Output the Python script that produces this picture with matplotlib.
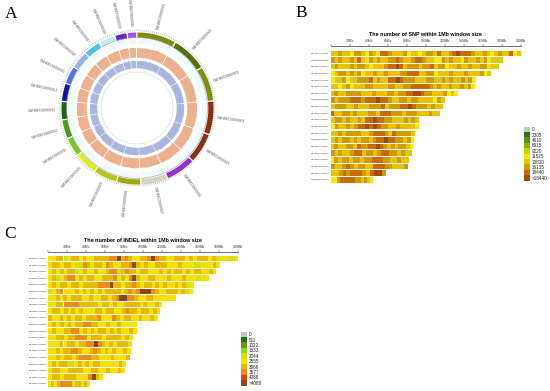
import numpy as np
import matplotlib.pyplot as plt

plt.rc('font', family='Liberation Sans')

chrom_names = ['GWHBEC%08d' % i for i in range(1, 21)]
chrom_len = [200, 181, 177, 169, 153, 152, 134, 120, 118, 115,
             93, 93, 89, 88, 87, 86, 82, 81, 58, 44]
chrom_colors = ['#7f8c14', '#55700f', '#7e8f0e', '#8a2c14', '#8a3018', '#9a2fd0', '#d4d4c4',
                '#a4a810', '#b4c41c', '#dcec1c', '#7cc820', '#4c9c18', '#1c6418', '#14149c',
                '#4878dc', '#98b4e8', '#50c4e4', '#c4ecf0', '#6428c8', '#a050e4']

# one digit per window, index into the legend colours
snp_levels = [
    '66766577657658876667566567768667898887667656766856',
    '767667686576766778766788766557676657667675664',
    '67666767765666788986777677867756676676677564',
    '567767675667667666778886677566676667666754',
    '56675667778676688987776667766767667675',
    '66567566677666677667788888767667667675',
    '6766777766676667767788998776667565',
    '767778887888988766776776666576',
    '67776676667778677788987776766',
    '86677676667768887776777666766',
    '67767667688988776667676',
    '57667678898987766766665',
    '6676777766788876877776',
    '6767767677678898877675',
    '6766776877889876767765',
    '767667886776788776766',
    '576776776778887766766',
    '76678767766888776667',
    '66787888768997',
    '55788888776765',
]
indel_levels = [
    '55664566565566667796765566797665566656566656455445',
    '566566544765665765566796565566655565554455565',
    '56565664565565567746766566555656566565665565',
    '564567756566556667565796556655565556555455',
    '56566566566667779665667656656565565645',
    '45675556565656566665676799976556665645',
    '5565656665565566567997765566555555',
    '556677776666656656556666565565',
    '56656565655566566556766566565',
    '65565656656667555765665565565',
    '56565656677665565565555',
    '56556677565656656565565',
    '5566566777566656666565',
    '5556566566779765656665',
    '5565667765567656565565',
    '556566567776655565556',
    '565664456565665555565',
    '56655666655665565565',
    '56656665557965',
    '56567777566565',
]

snp_colors = ['#b8ccc4', '#3a6a10', '#5a9010', '#8ab010', '#c4d800',
              '#f4ec00', '#e8c400', '#d09a00', '#c86a08', '#a04a10']
indel_colors = ['#b8ccc4', '#1f6f1a', '#6f8f20', '#80e020', '#d8dc10',
                '#f8e000', '#e8b800', '#ec8c18', '#e83818', '#8a4a18']
snp_ticks = ['0', '2305', '4610', '6915', '9220', '11525', '13830', '16135', '18440', '>18440']
indel_ticks = ['0', '511', '1022', '1533', '2044', '2555', '3066', '3577', '4088', '>4088']
mb_ticks = list(range(20, 220, 20))

W, H = 550, 391
fig = plt.figure(figsize=(W / 100, H / 100), dpi=100)


def px_axes(x0, y0, x1, y1, **kw):
    return fig.add_axes([x0 / W, 1 - y1 / H, (x1 - x0) / W, (y1 - y0) / H], **kw)


def draw_heat(x0, x1, y_axis, y_first, pitch, levels, colors, title, y_title):
    ax = px_axes(x0, y_axis, x1, y_axis + 21 * pitch)
    ax.patch.set_visible(False)
    for i, row in enumerate(levels):
        step = chrom_len[i] / len(row)
        for j, c in enumerate(row):
            ax.barh(i, step, left=j * step, height=0.82, color=colors[int(c)], lw=0)
    off = (y_first - y_axis) / pitch + 0.41
    ax.set_ylim(21 - off, -off)
    ax.set_xlim(0, 200)
    for s in ['left', 'right', 'bottom']:
        ax.spines[s].set_visible(False)
    ax.spines['top'].set_linewidth(0.4)
    ax.xaxis.tick_top()
    ax.set_xticks([0] + mb_ticks)
    ax.set_xticklabels([''] + ['%dMb' % m for m in mb_ticks], fontsize=2.4, color='#333333')
    ax.tick_params(axis='x', length=1.2, width=0.3, pad=0.6)
    ax.set_yticks(range(20))
    ax.set_yticklabels(chrom_names, fontsize=1.5, color='#333333')
    ax.tick_params(axis='y', length=0, pad=0.8)
    fig.text((x0 + x1) / 2 / W, 1 - y_title / H, title, fontsize=3.9, fontweight='bold',
             ha='center', va='center')


def draw_key(x0, y0, colors, ticks):
    ax = px_axes(x0, y0, x0 + 6.5, y0 + 5.4 * len(colors))
    ax.barh(range(len(colors)), 1, height=1, color=colors, lw=0)
    ax.set_xlim(0, 1)
    ax.set_ylim(len(colors) - 0.5, -0.5)
    ax.set_xticks([])
    ax.yaxis.tick_right()
    ax.set_yticks(range(len(ticks)))
    ax.set_yticklabels(ticks, fontsize=3.3, color='#222222')
    ax.tick_params(axis='y', length=0, pad=1.0)
    for s in ax.spines.values():
        s.set_visible(False)


# panel A, circular genome plot
cx, cy, R = 137, 108, 120
ax = px_axes(cx - R, cy - R, cx + R, cy + R, projection='polar')
ax.set_theta_zero_location('N')
ax.set_theta_direction(-1)
ax.set_ylim(0, R)
ax.axis('off')

gap = np.deg2rad(1.0)
scale = (2 * np.pi - 20 * gap) / sum(chrom_len)
start = 0.0
for i, n in enumerate(chrom_len):
    span = n * scale
    arc = np.linspace(start, start + span, 40)
    ax.fill_between(arc, 64, 70.3, color='#f1fafa', lw=0)
    ax.fill_between(arc, 70.8, 76, color=chrom_colors[i], lw=0)
    ax.plot(arc, [70.4] * 40, color='#9a9ac8', lw=0.4)

    snp = snp_levels[i]
    step = span / len(snp)
    for j, c in enumerate(snp):
        ax.bar(start + j * step, 8.4 + 0.2 * int(c), width=step, bottom=50.3, align='edge',
               color='#e8986a', lw=0)
    indel = indel_levels[i]
    step = span / len(indel)
    for j, c in enumerate(indel):
        ax.bar(start + j * step, 5.8 + 0.25 * int(c), width=step, bottom=39.8, align='edge',
               color='#8c9ad2', lw=0)

    marks = start + np.arange(0, n + 1, 10) * scale
    ax.vlines(marks, 76.5, 78.5, color='#8a8a8a', lw=0.25)

    mid = start + span / 2
    deg = np.rad2deg(mid)
    if deg < 180:
        ax.text(mid, 81, chrom_names[i], rotation=90 - deg, rotation_mode='anchor',
                ha='left', va='center', fontsize=2.25, color='#555555')
    else:
        ax.text(mid, 81, chrom_names[i], rotation=270 - deg, rotation_mode='anchor',
                ha='right', va='center', fontsize=2.25, color='#555555')
    start += span + gap

ax.plot(np.linspace(0, 2 * np.pi, 200), [36] * 200, color='#d4e2dc', lw=0.5)

# panel B, SNP density
draw_heat(330.7, 520.7, 46, 50.7, 6.65, snp_levels, snp_colors,
          'The number of SNP within 1Mb window size', 35)
draw_key(523.5, 126.5, snp_colors, snp_ticks)

# panel C, INDEL density
draw_heat(48.3, 238.3, 251.7, 255.7, 6.6, indel_levels, indel_colors,
          'The number of INDEL within 1Mb window size', 240.7)
draw_key(240.8, 331.5, indel_colors, indel_ticks)

for label, x, y in [('A', 5, 14), ('B', 295, 13), ('C', 4, 234)]:
    fig.text(x / W, 1 - y / H, label, fontsize=12.5, family='Liberation Serif', va='center')

fig.savefig('out.png', dpi=100)
